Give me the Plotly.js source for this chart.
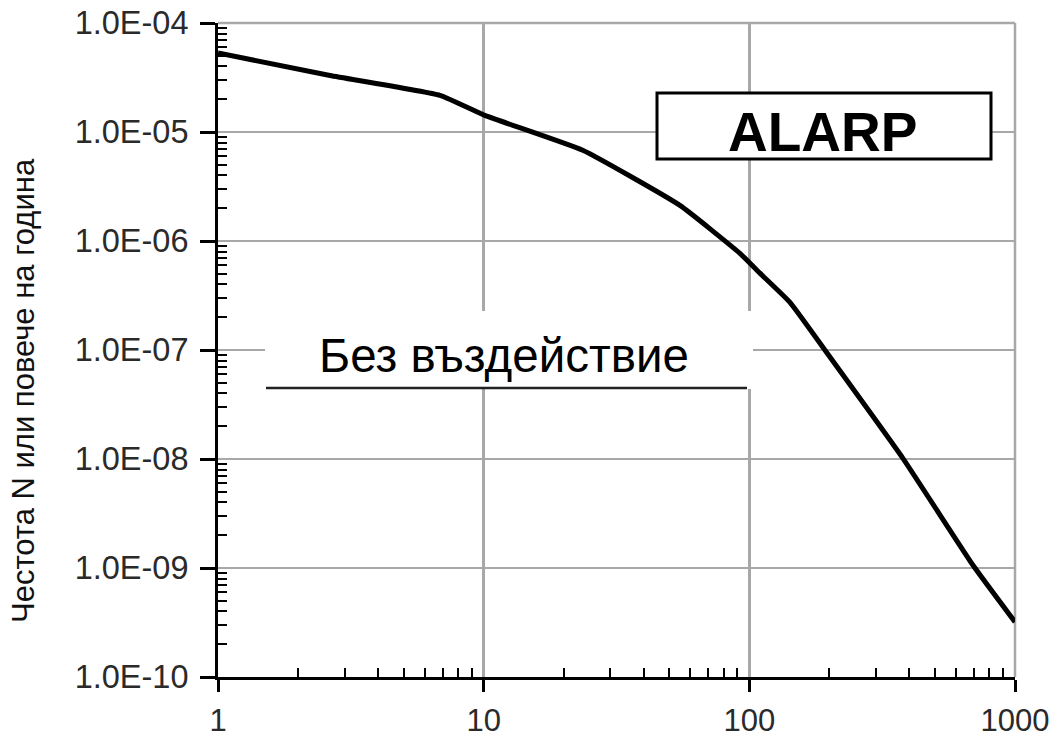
<!DOCTYPE html>
<html>
<head>
<meta charset="utf-8">
<script src="https://cdn.plot.ly/plotly-3.0.1.min.js"></script>
<style>html,body{margin:0;padding:0;background:#fff;}#chart{width:1054px;height:738px;}</style>
</head>
<body>
<div id="chart"></div>
<script>
// Data
const fatalitiesN = [1, 2.64, 6.85, 10.1, 23.6, 54.8, 92.2, 109.6, 142, 196, 378, 695, 1000];
const frequencyF = [5.3e-5, 3.3e-5, 2.17e-5, 1.42e-5, 6.8e-6, 2.12e-6, 7.7e-7, 5.07e-7, 2.75e-7, 9.4e-8, 1.02e-8, 1.06e-9, 3.2e-10];
const xTickVals = [1, 10, 100, 1000];
const xTickText = ['1', '10', '100', '1000'];
const yTickVals = [1e-10, 1e-9, 1e-8, 1e-7, 1e-6, 1e-5, 1e-4];
const yTickText = ['1.0E-10', '1.0E-09', '1.0E-08', '1.0E-07', '1.0E-06', '1.0E-05', '1.0E-04'];
const minorMantissas = [2, 3, 4, 5, 6, 7, 8, 9];
const yTitle = 'Честота N или повече на година';
const labelAlarp = 'ALARP';
const labelNoAction = 'Без въздействие';

// minor tick positions (2..9 within each decade)
const minorTicks = decades => decades.flatMap(d => minorMantissas.map(m => m * d));
const xMinor = minorTicks([1, 10, 100]);
const yMinor = minorTicks([1e-10, 1e-9, 1e-8, 1e-7, 1e-6, 1e-5]);

// plot geometry (pixels)
const W = 1054, H = 738;
const L = 218, T = 23, R = 1015, B = 677;
const pw = R - L, ph = B - T;
const px = x => (x - L) / pw;
const py = y => (B - y) / ph;

const FONT = 'Liberation Sans, Arial, sans-serif';
const GRID = '#a8a8a8';

const trace = {
  x: fatalitiesN, y: frequencyF, type: 'scatter', mode: 'lines',
  line: {color: '#000', width: 5, shape: 'spline', smoothing: 0.4},
  hoverinfo: 'x+y', showlegend: false
};

const layout = {
  width: W, height: H,
  margin: {l: L, r: W - R, t: T, b: H - B, pad: 0},
  paper_bgcolor: '#fff', plot_bgcolor: '#fff',
  font: {family: FONT, color: '#222'},
  xaxis: {
    type: 'log', range: [0, 3], tickvals: xTickVals, ticktext: xTickText,
    ticks: 'outside', ticklen: 12, tickwidth: 3, tickcolor: '#000',
    showline: true, linecolor: '#000', linewidth: 3,
    showgrid: true, gridcolor: GRID, gridwidth: 2.5, zeroline: false,
    tickfont: {family: FONT, size: 31, color: '#2a2a2a'}, ticklabelstandoff: 2,
    minor: {tickmode: 'array', tickvals: xMinor, ticks: 'inside', ticklen: 9, tickwidth: 2, tickcolor: '#000', showgrid: false}
  },
  yaxis: {
    type: 'log', range: [-10, -4], tickvals: yTickVals, ticktext: yTickText,
    ticks: 'outside', ticklen: 15, tickwidth: 3, tickcolor: '#000',
    showline: true, linecolor: '#000', linewidth: 3,
    showgrid: true, gridcolor: GRID, gridwidth: 2.5, zeroline: false,
    tickfont: {family: FONT, size: 32.5, color: '#2a2a2a'}, ticklabelstandoff: 5,
    minor: {tickmode: 'array', tickvals: yMinor, ticks: 'inside', ticklen: 9, tickwidth: 2, tickcolor: '#000', showgrid: false}
  },
  shapes: [
    {type: 'line', xref: 'paper', yref: 'paper', x0: 0, x1: 1, y0: 1, y1: 1, line: {color: GRID, width: 2.5}, layer: 'below'},
    {type: 'line', xref: 'paper', yref: 'paper', x0: 1, x1: 1, y0: 0, y1: 1, line: {color: GRID, width: 2.5}, layer: 'below'},
    {type: 'rect', xref: 'paper', yref: 'paper', x0: px(657), x1: px(991), y0: py(159), y1: py(93),
     fillcolor: '#fff', line: {color: '#000', width: 3}, layer: 'above'},
    {type: 'rect', xref: 'paper', yref: 'paper', x0: px(265), x1: px(753), y0: py(389), y1: py(311),
     fillcolor: '#fff', line: {width: 0}, layer: 'above'},
    {type: 'line', xref: 'paper', yref: 'paper', x0: px(266), x1: px(747), y0: py(388), y1: py(388),
     line: {color: '#222', width: 2.5}, layer: 'above'}
  ],
  annotations: [
    {text: labelAlarp, xref: 'paper', yref: 'paper', x: px(822), y: py(132), xanchor: 'center', yanchor: 'middle',
     showarrow: false, font: {family: FONT, size: 55, color: '#000', weight: 'bold'}},
    {text: labelNoAction, xref: 'paper', yref: 'paper', x: px(504), y: py(355), xanchor: 'center', yanchor: 'middle',
     showarrow: false, font: {family: FONT, size: 47.5, color: '#000'}},
    {text: yTitle, xref: 'paper', yref: 'paper', x: px(23), y: py(391), xanchor: 'center', yanchor: 'middle',
     textangle: -90, showarrow: false, font: {family: FONT, size: 31, color: '#111'}}
  ]
};

Plotly.newPlot('chart', [trace], layout, {displayModeBar: false, staticPlot: true});
</script>
</body>
</html>
